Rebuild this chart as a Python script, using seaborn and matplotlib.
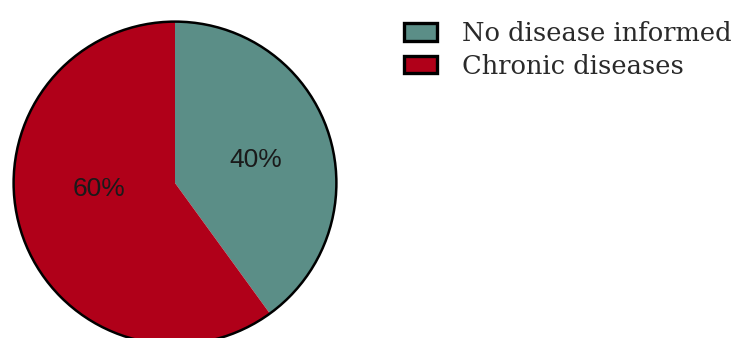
import matplotlib
matplotlib.use("Agg")
import matplotlib.pyplot as plt
import seaborn as sns
from matplotlib.patches import Patch, Circle

categories = ["No disease informed", "Chronic diseases"]
values = [40, 60]
colors = ["#5B8E87", "#B00019"]

sns.set_theme(style="white")
plt.rcParams['font.family'] = ['Liberation Sans', 'DejaVu Sans']

fig = plt.figure(figsize=(7.39, 3.38), dpi=100)
W, H = 739, 338
cx, cy, r = 175, 183, 163
ax = fig.add_axes([(cx - r) / W, (H - cy - r) / H, 2 * r / W, 2 * r / H])
wedges, texts, autotexts = ax.pie(
    values, colors=colors, startangle=90, counterclock=False,
    autopct='%1.0f%%', pctdistance=0.53, radius=1,
    wedgeprops=dict(linewidth=0),
    textprops=dict(fontsize=19, color='#1a1a1a'))
autotexts[0].set_position((0.50, 0.14))
autotexts[1].set_position((-0.47, -0.035))
ax.add_patch(Circle((0, 0), 1, fill=False, edgecolor='black', linewidth=1.8, zorder=5))
ax.set_xlim(-1.01, 1.01)
ax.set_ylim(-1.01, 1.01)
ax.set_aspect('equal')
ax.axis('off')

handles = [Patch(facecolor=c, edgecolor='black', linewidth=2.4) for c in colors]
leg = fig.legend(handles, categories, loc='upper left', bbox_to_anchor=(404 / W, 1 - 21 / H),
                 frameon=False, prop=dict(family='DejaVu Serif', size=18.5),
                 handlelength=1.3, handleheight=0.66, handletextpad=0.95, labelspacing=0.3,
                 borderaxespad=0, borderpad=0)
for t in leg.get_texts():
    t.set_color('#2a2a2a')

fig.savefig("out.png", dpi=100)
